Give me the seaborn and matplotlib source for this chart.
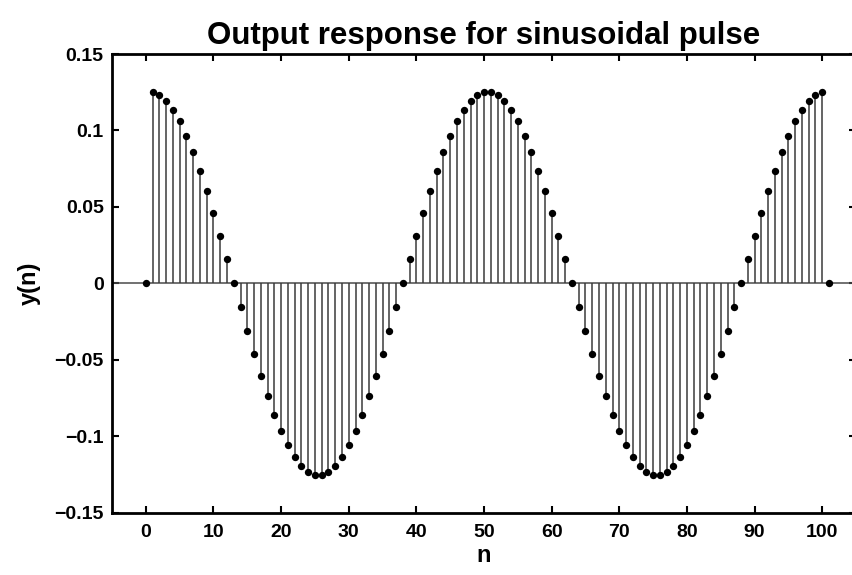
import matplotlib
matplotlib.use("Agg")
import matplotlib.pyplot as plt
import seaborn as sns
import pandas as pd

# Sample index and output samples y(n) of the system response
n_values = list(range(0, 102))
y_values = [
    0.0,
    0.1253, 0.1233, 0.1194, 0.1136, 0.1060, 0.0967, 0.0859, 0.0738, 0.0605, 0.0462,
    0.0312, 0.0157, 0.0, -0.0157, -0.0312, -0.0462, -0.0605, -0.0738, -0.0859, -0.0967,
    -0.1060, -0.1136, -0.1194, -0.1233, -0.1253,
    -0.1253, -0.1233, -0.1194, -0.1136, -0.1060, -0.0967, -0.0859, -0.0738, -0.0605, -0.0462,
    -0.0312, -0.0157, 0.0, 0.0157, 0.0312, 0.0462, 0.0605, 0.0738, 0.0859, 0.0967,
    0.1060, 0.1136, 0.1194, 0.1233, 0.1253,
    0.1253, 0.1233, 0.1194, 0.1136, 0.1060, 0.0967, 0.0859, 0.0738, 0.0605, 0.0462,
    0.0312, 0.0157, 0.0, -0.0157, -0.0312, -0.0462, -0.0605, -0.0738, -0.0859, -0.0967,
    -0.1060, -0.1136, -0.1194, -0.1233, -0.1253,
    -0.1253, -0.1233, -0.1194, -0.1136, -0.1060, -0.0967, -0.0859, -0.0738, -0.0605, -0.0462,
    -0.0312, -0.0157, 0.0, 0.0157, 0.0312, 0.0462, 0.0605, 0.0738, 0.0859, 0.0967,
    0.1060, 0.1136, 0.1194, 0.1233, 0.1253,
    0.0,
]

x_ticks = [0, 10, 20, 30, 40, 50, 60, 70, 80, 90, 100]
y_ticks = [0.15, 0.1, 0.05, 0, -0.05, -0.1, -0.15]
y_tick_labels = ["0.15", "0.1", "0.05", "0", "\u22120.05", "\u22120.1", "\u22120.15"]

df = pd.DataFrame({"n": n_values, "y": y_values})

sns.set_theme(style="ticks")
plt.rcParams["font.family"] = ["Liberation Sans", "DejaVu Sans"]
plt.rcParams["font.weight"] = "bold"
plt.rcParams["text.color"] = "black"
plt.rcParams["axes.labelcolor"] = "black"
plt.rcParams["axes.titlecolor"] = "black"

fig = plt.figure(figsize=(8.53, 5.75), dpi=100)
ax = fig.add_axes([0.1313, 0.1083, 0.8723, 0.7977])

# Baseline and stems
ax.axhline(0, color="#4a4a4a", lw=1.1, zorder=1)
ax.vlines(df["n"], 0, df["y"], color="#3a3a3a", lw=1.1, zorder=2)
sns.scatterplot(data=df, x="n", y="y", ax=ax, color="black", s=28,
                edgecolor="black", linewidth=0, zorder=3, legend=False)

ax.set_xlim(-5, 105)
ax.set_ylim(-0.15, 0.15)
ax.set_xticks(x_ticks)
ax.set_xticklabels([str(t) for t in x_ticks])
ax.set_yticks(y_ticks)
ax.set_yticklabels(y_tick_labels)

for side in ["left", "right", "top", "bottom"]:
    ax.spines[side].set_visible(True)
    ax.spines[side].set_linewidth(2.0)
    ax.spines[side].set_color("black")

ax.tick_params(axis="both", which="major", direction="in", length=5, width=1.5,
               labelsize=14, colors="black", top=True, right=True)
ax.tick_params(axis="x", pad=8)
ax.tick_params(axis="y", pad=6)
for lbl in ax.get_xticklabels() + ax.get_yticklabels():
    lbl.set_fontweight("bold")

ax.set_xlabel("n", fontsize=17, fontweight="bold", labelpad=2)
ax.set_ylabel("y(n)", fontsize=17, fontweight="bold", labelpad=10)
ax.set_title("Output response for sinusoidal pulse", fontsize=22.5, fontweight="bold", pad=7)

fig.savefig("out.png", dpi=100)
